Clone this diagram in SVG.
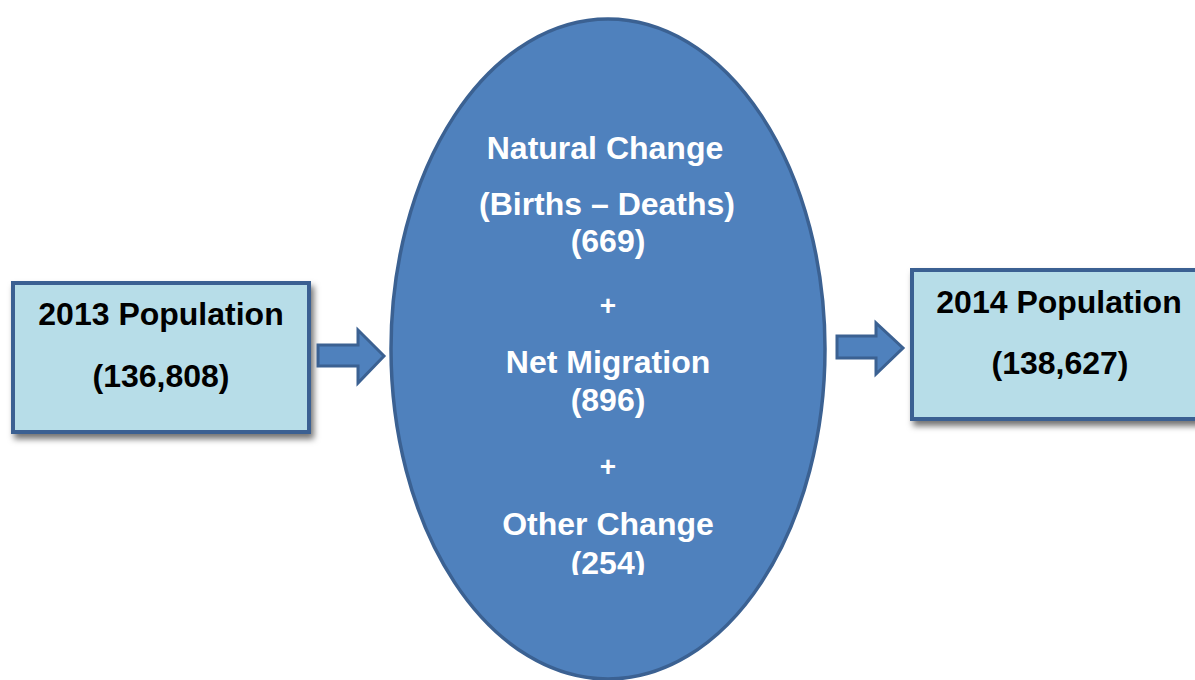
<svg xmlns="http://www.w3.org/2000/svg" width="1195" height="680" viewBox="0 0 1195 680">
<style>
.box{fill:#b7dde8;stroke:#3b6192;stroke-width:4;filter:url(#sh)}
.blk{font-family:"Liberation Sans",Arial,sans-serif;font-weight:bold;font-size:32px;fill:#000;text-anchor:middle}
.wht{font-family:"Liberation Sans",Arial,sans-serif;font-weight:bold;font-size:32px;fill:#fff;text-anchor:middle}
.arr{fill:#4f81bd;stroke:#3b6192;stroke-width:3;stroke-linejoin:miter}
</style>
<defs>
<filter id="sh" x="-10%" y="-10%" width="130%" height="140%">
<feDropShadow dx="3" dy="5" stdDeviation="3" flood-color="#000" flood-opacity="0.55"/>
</filter>
<clipPath id="clip"><rect x="380" y="0" width="460" height="575"/></clipPath>
</defs>
<rect width="1195" height="680" fill="#fff"/>
<g id="pop2013">
<rect class="box" x="13" y="283" width="296" height="149"/>
<text class="blk" x="161" y="325">2013 Population</text>
<text class="blk" x="161" y="387">(136,808)</text>
</g>
<g id="change">
<ellipse cx="608" cy="349" rx="217" ry="330" fill="#4f81bd" stroke="#3b6192" stroke-width="3.5"/>
<g clip-path="url(#clip)">
<text class="wht" x="605" y="159">Natural Change</text>
<text class="wht" x="607" y="215">(Births – Deaths)</text>
<text class="wht" x="608" y="252">(669)</text>
<text class="wht" x="608" y="315" style="font-size:28px">+</text>
<text class="wht" x="608" y="373">Net Migration</text>
<text class="wht" x="608" y="411">(896)</text>
<text class="wht" x="608" y="476" style="font-size:28px">+</text>
<text class="wht" x="608" y="535">Other Change</text>
<text class="wht" x="608" y="574">(254)</text>
</g>
</g>
<g id="pop2014">
<rect class="box" x="912" y="270" width="300" height="149"/>
<text class="blk" x="1059" y="313">2014 Population</text>
<text class="blk" x="1060" y="374">(138,627)</text>
</g>
<g id="connectors">
<path class="arr" d="M318,345 L358,345 L358,330 L384,356 L358,383 L358,366 L318,366 Z"/>
<path class="arr" d="M837,336 L876,336 L876,323 L903,348 L876,374 L876,358 L837,358 Z"/>
</g>
</svg>
